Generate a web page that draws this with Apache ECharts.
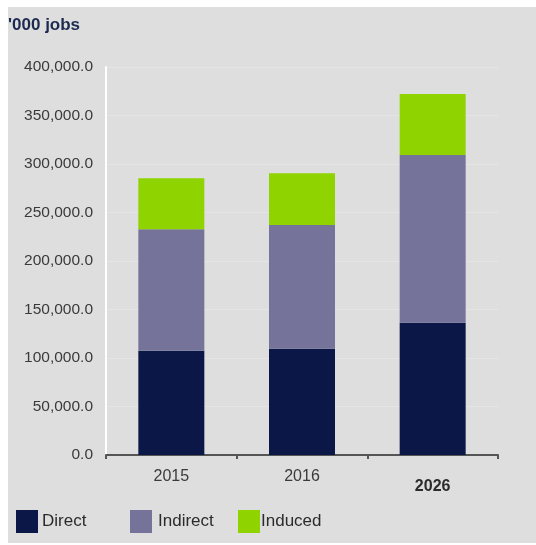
<!DOCTYPE html>
<html>
<head>
<meta charset="utf-8">
<script src="https://cdn.jsdelivr.net/npm/echarts@6/dist/echarts.min.js"></script>
<style>
  html, body { margin: 0; padding: 0; background: #ffffff; }
  #wrap { position: relative; width: 536px; height: 545px; background: #ffffff; }
  #chart { position: absolute; left: 8px; top: 7px; width: 528px; height: 536px; }
</style>
</head>
<body>
<div id="wrap"><div id="chart"></div></div>
<script>
// Employment impact, thousands of jobs
const years = ['2015', '2016', '2026'];
const direct = [107500, 109600, 136400];
const indirect = [125200, 127500, 172900];
const induced = [52600, 53300, 62900];
const yTicks = { min: 0, max: 400000, step: 50000 };

const colors = { direct: '#0b1746', indirect: '#75739a', induced: '#8fd400' };
const font = '"Liberation Sans", Arial, sans-serif';

const chart = echarts.init(document.getElementById('chart'), null, { renderer: 'canvas' });

function fmt(v) {
  return v.toLocaleString('en-US', { minimumFractionDigits: 1, maximumFractionDigits: 1 });
}

function legendAt(name, left, textShift) {
  return {
    data: [name],
    left: left,
    top: 503,
    padding: 0,
    orient: 'horizontal',
    itemWidth: 22,
    itemHeight: 23,
    itemGap: 0,
    icon: 'rect',
    selectedMode: false,
    textStyle: { fontFamily: font, fontSize: 17, color: '#2b2b2b', padding: [0, 0, 0, textShift] }
  };
}

chart.setOption({
  backgroundColor: '#dedede',
  animation: false,
  title: {
    text: "'000 jobs",
    left: 0,
    top: 10,
    padding: 0,
    textStyle: { fontFamily: font, fontSize: 17, fontWeight: 'bold', color: '#1c2a50' }
  },
  legend: [
    legendAt('Direct', 8, -1),
    legendAt('Indirect', 122, 1),
    legendAt('Induced', 230, -4)
  ],
  grid: { left: 98, right: 38, top: 60, bottom: 88, containLabel: false },
  xAxis: {
    type: 'category',
    data: years.map((y, i) => i === years.length - 1
      ? { value: y, textStyle: { fontWeight: 'bold', padding: [10, 0, 0, 0], color: '#2b2b2b' } }
      : y),
    axisLine: { show: true, lineStyle: { color: '#555555', width: 2 } },
    axisTick: { show: true, length: 4, lineStyle: { color: '#555555', width: 2 } },
    axisLabel: { fontFamily: font, fontSize: 16, color: '#3a3a3a', margin: 14 }
  },
  yAxis: {
    type: 'value',
    min: yTicks.min,
    max: yTicks.max,
    interval: yTicks.step,
    axisLine: { show: true, lineStyle: { color: '#ffffff', width: 2 } },
    axisTick: { show: false },
    splitLine: { show: true, lineStyle: { color: '#e5e5e5', width: 1 } },
    axisLabel: { fontFamily: font, fontSize: 15.5, color: '#3a3a3a', margin: 13, formatter: fmt }
  },
  series: [
    { name: 'Direct', type: 'bar', stack: 'jobs', data: direct, barWidth: 66, itemStyle: { color: colors.direct } },
    { name: 'Indirect', type: 'bar', stack: 'jobs', data: indirect, barWidth: 66, itemStyle: { color: colors.indirect } },
    { name: 'Induced', type: 'bar', stack: 'jobs', data: induced, barWidth: 66, itemStyle: { color: colors.induced } }
  ]
});
</script>
</body>
</html>
